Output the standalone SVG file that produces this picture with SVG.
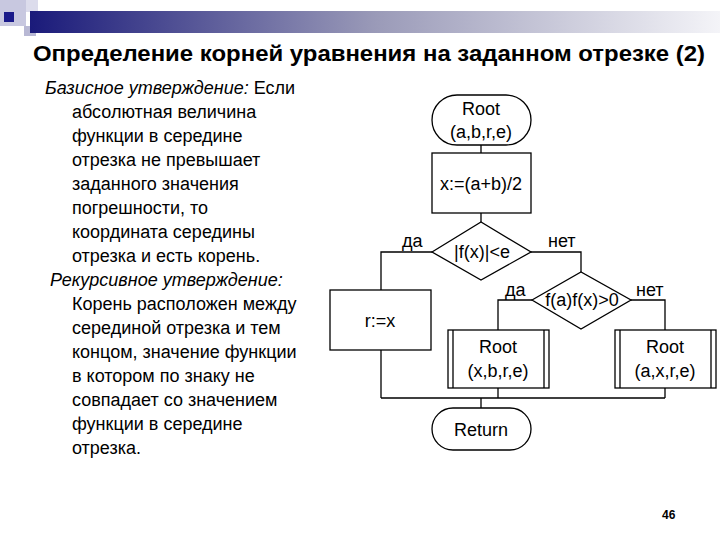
<svg xmlns="http://www.w3.org/2000/svg" width="720" height="540" viewBox="0 0 720 540">
<defs>
<linearGradient id="g" x1="0" x2="1" y1="0" y2="0"><stop offset="0" stop-color="#1a1a7a"/><stop offset="0.5" stop-color="#9a9ab8"/><stop offset="1" stop-color="#f4f4f8"/></linearGradient>
</defs>
<style>
.s{fill:#fff;stroke:#000;stroke-width:1.3}
.l{fill:none;stroke:#000;stroke-width:1.3}
.t{font-family:"Liberation Sans",Arial,sans-serif;font-size:18px;fill:#000}
.c{text-anchor:middle}
</style>
<rect width="720" height="540" fill="#fff"/>
<rect x="0" y="0" width="26" height="26" fill="#c8c8e0"/>
<rect x="26" y="0" width="12" height="12" fill="#dcdcec"/>
<rect x="24" y="26" width="12" height="10" fill="#b8b8d4"/>
<rect x="30" y="11" width="690" height="22" fill="url(#g)"/>
<rect x="4" y="12" width="10" height="10" fill="#1a1a8a"/>
<text x="33" y="61" font-family="Liberation Sans,Arial,sans-serif" font-size="22" font-weight="bold" textLength="672" lengthAdjust="spacingAndGlyphs">Определение корней уравнения на заданном отрезке (2)</text>
<g class="t">
<text x="45" y="94"><tspan font-style="italic">Базисное утверждение:</tspan> Если</text>
<text x="72" y="118">абсолютная величина</text>
<text x="72" y="142">функции в середине</text>
<text x="72" y="166">отрезка не превышает</text>
<text x="72" y="190">заданного значения</text>
<text x="72" y="214">погрешности, то</text>
<text x="72" y="238">координата середины</text>
<text x="72" y="262">отрезка и есть корень.</text>
<text x="50" y="286" font-style="italic">Рекурсивное утверждение:</text>
<text x="72" y="310">Корень расположен  между</text>
<text x="72" y="334">серединой отрезка и тем</text>
<text x="72" y="358">концом, значение функции</text>
<text x="72" y="382">в котором по знаку не</text>
<text x="72" y="406">совпадает со значением</text>
<text x="72" y="430">функции в середине</text>
<text x="72" y="454">отрезка.</text>
</g>
<g id="connectors" class="l">
<path d="M481 145V153M481 213V222M432 252H381V290M381 350V398M531 252H581V272M532 300H498V330M631 300H665V330M498 388V398M665 388V398M381 398H665M481 398V408"/>
</g>
<g id="root"><rect class="s" x="432" y="95" width="99" height="50" rx="25"/><text class="t c" x="481" y="115">Root</text><text class="t c" x="481" y="138">(a,b,r,e)</text></g>
<g id="assign"><rect class="s" x="432" y="153" width="99" height="60"/><text class="t c" x="481" y="190">x:=(a+b)/2</text></g>
<g id="cond1"><polygon class="s" points="432,252 481,222 531,252 481,280"/><text class="t c" x="482" y="258">|f(x)|&lt;e</text></g>
<g id="cond2"><polygon class="s" points="532,300 581,272 631,300 581,329"/><text class="t c" x="582" y="306">f(a)f(x)&gt;0</text></g>
<g id="rx"><rect class="s" x="330" y="290" width="101" height="60"/><text class="t c" x="380" y="327">r:=x</text></g>
<g id="root2"><rect class="s" x="448" y="330" width="101" height="58"/><path class="l" d="M453 330V388M544 330V388"/><text class="t c" x="498" y="353">Root</text><text class="t c" x="498" y="377">(x,b,r,e)</text></g>
<g id="root3"><rect class="s" x="615" y="330" width="101" height="58"/><path class="l" d="M620 330V388M711 330V388"/><text class="t c" x="665" y="353">Root</text><text class="t c" x="665" y="377">(a,x,r,e)</text></g>
<g id="ret"><rect class="s" x="432" y="408" width="99" height="42" rx="21"/><text class="t c" x="481" y="436">Return</text></g>
<g class="t">
<text x="402" y="247">да</text><text x="548" y="247">нет</text>
<text x="505" y="296">да</text><text x="636" y="296">нет</text>
</g>
<text x="662" y="519" font-family="Liberation Sans,Arial,sans-serif" font-size="12" font-weight="bold">46</text>
</svg>
